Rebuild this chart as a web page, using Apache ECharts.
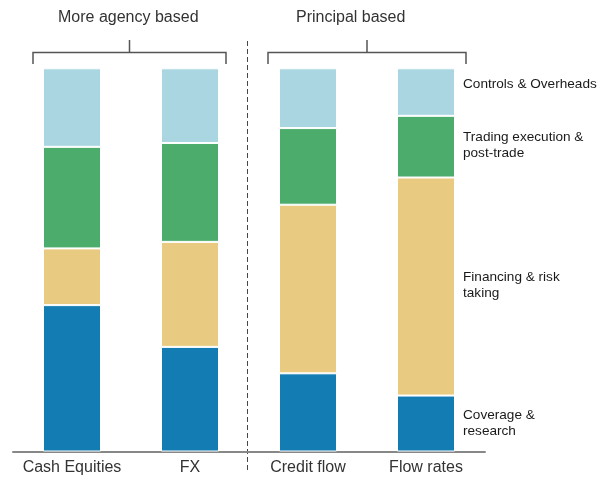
<!DOCTYPE html>
<html>
<head>
<meta charset="utf-8">
<script src="https://cdn.jsdelivr.net/npm/echarts@6/dist/echarts.min.js"></script>
<style>html,body{margin:0;padding:0;background:#fff}#c{width:606px;height:481px}</style>
</head>
<body>
<div id="c"></div>
<script>
const categories = ['Cash Equities', 'FX', 'Credit flow', 'Flow rates'];
const seriesNames = ['Coverage &\nresearch', 'Financing & risk\ntaking', 'Trading execution &\npost-trade', 'Controls & Overheads'];
const coverage = [38.2, 27.3, 20.4, 14.6];
const financing = [14.8, 27.4, 44.0, 56.9];
const trading = [26.5, 25.8, 20.0, 16.1];
const controls = [20.5, 19.5, 15.6, 12.4];
const groupTitles = ['More agency based', 'Principal based'];

const colors = ['#137db3', '#e8cb80', '#4cac6c', '#a9d6e1'];
const FONT = '"Liberation Sans", Arial, sans-serif';
const values = [coverage, financing, trading, controls];
const labelOffsets = [[0, 0], [0, -1], [0, -1], [0, -8]];

const chart = echarts.init(document.getElementById('c'), null, {renderer: 'canvas'});
const series = values.map((vals, si) => ({
  name: seriesNames[si],
  type: 'bar',
  stack: 'all',
  barWidth: 58,
  itemStyle: {color: colors[si], borderColor: '#ffffff', borderWidth: 1},
  emphasis: {disabled: true},
  data: vals.map((v, i) => i === vals.length - 1 ? {
    value: v,
    label: {
      show: true, position: 'right', distance: 8, offset: labelOffsets[si],
      formatter: seriesNames[si], color: '#1a1a1a', fontSize: 13.6,
      lineHeight: 16, fontFamily: FONT, align: 'left'
    }
  } : v)
}));

const lineStyle = {stroke: '#555', lineWidth: 1.5};
chart.setOption({
  animation: false,
  grid: {left: 13, top: 68.3, width: 472, bottom: 29.5, containLabel: false},
  xAxis: {
    type: 'category', data: categories,
    axisLine: {show: true, lineStyle: {color: '#888', width: 2}},
    axisTick: {show: false},
    axisLabel: {interval: 0, color: '#333', fontSize: 16, fontFamily: FONT, margin: 8}
  },
  yAxis: {type: 'value', min: 0, max: 100, show: false},
  series: series,
  graphic: [
    {type: 'text', left: 128 - 70, top: 10, style: {text: groupTitles[0], fontSize: 16, fontFamily: FONT, fill: '#333', width: 140, align: 'center'}},
    {type: 'text', left: 366 - 70, top: 10, style: {text: groupTitles[1], fontSize: 16, fontFamily: FONT, fill: '#333', width: 140, align: 'center'}},
    {type: 'polyline', shape: {points: [[33, 64], [33, 52.5], [226, 52.5], [226, 64]]}, style: Object.assign({fill: null}, lineStyle)},
    {type: 'line', shape: {x1: 129.5, y1: 40, x2: 129.5, y2: 52.5}, style: lineStyle},
    {type: 'polyline', shape: {points: [[268, 64], [268, 52.5], [466, 52.5], [466, 64]]}, style: Object.assign({fill: null}, lineStyle)},
    {type: 'line', shape: {x1: 367, y1: 40, x2: 367, y2: 52.5}, style: lineStyle},
    {type: 'line', shape: {x1: 247.5, y1: 41, x2: 247.5, y2: 471}, style: {stroke: '#444', lineWidth: 1, lineDash: [5, 3]}}
  ]
});
</script>
</body>
</html>
